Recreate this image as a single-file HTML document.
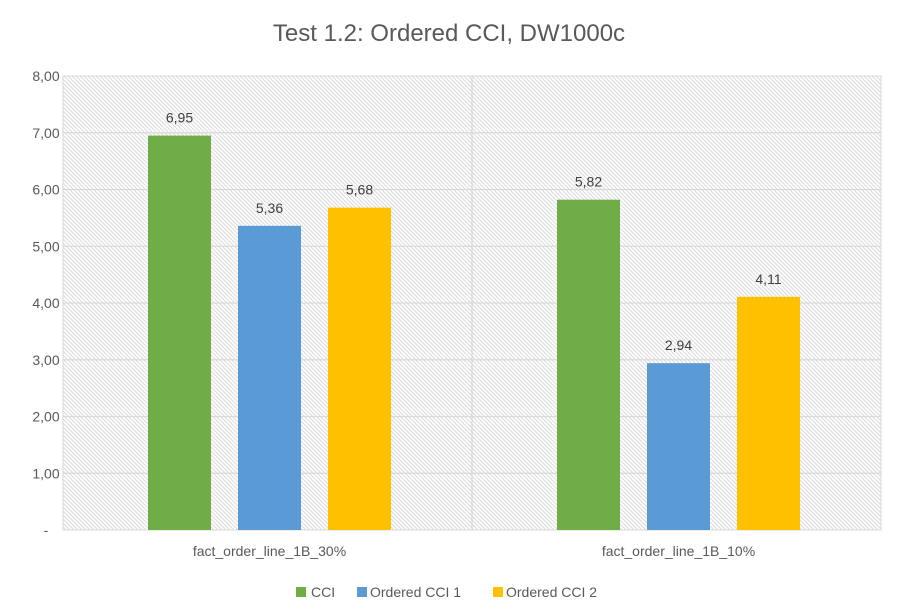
<!DOCTYPE html>
<html><head><meta charset="utf-8"><style>
html,body{margin:0;padding:0;background:#fff;width:898px;height:612px;overflow:hidden}
text{font-family:"Liberation Sans",sans-serif}
</style></head><body>
<svg id="chart" width="898" height="612" viewBox="0 0 898 612">
<defs>
<pattern id="hatch" width="4" height="4" patternUnits="userSpaceOnUse">
<rect width="4" height="4" fill="#fff"/>
<path d="M-1,-1 L5,5 M-1,3 L1,5 M3,-1 L5,1" stroke="#dcdcdc" stroke-width="1"/>
</pattern>
</defs>
<text x="449" y="41" text-anchor="middle" font-size="24" fill="#595959">Test 1.2: Ordered CCI, DW1000c</text>
<rect x="63" y="76" width="818" height="454" fill="url(#hatch)" stroke="#d9d9d9"/>
<g id="grid"></g><g id="bars"></g><g id="labels"></g>
<g>
<rect x="296" y="587" width="10" height="10" fill="#70ad47"/>
<text x="311" y="597" font-size="14" fill="#595959">CCI</text>
<rect x="357" y="587" width="10" height="10" fill="#5b9bd5"/>
<text x="370" y="597" font-size="14" fill="#595959">Ordered CCI 1</text>
<rect x="493" y="587" width="10" height="10" fill="#ffc000"/>
<text x="506" y="597" font-size="14" fill="#595959">Ordered CCI 2</text>
</g>
</svg>
<script>
const categories = ["fact_order_line_1B_30%", "fact_order_line_1B_10%"];
const seriesNames = ["CCI", "Ordered CCI 1", "Ordered CCI 2"];
const cciValues = [6.95, 5.82];
const ordered1Values = [5.36, 2.94];
const ordered2Values = [5.68, 4.11];
const valueLabels = [["6,95","5,82"],["5,36","2,94"],["5,68","4,11"]];
const yTicks = [0,1,2,3,4,5,6,7,8];
const yTickLabels = ["-","1,00","2,00","3,00","4,00","5,00","6,00","7,00","8,00"];

const NS="http://www.w3.org/2000/svg";
const X0=63,X1=881,Y0=530,Y1=76,YMAX=8;
const colors=["#70ad47","#5b9bd5","#ffc000"];
const series=[cciValues,ordered1Values,ordered2Values];
const y=v=>Y0-(v/YMAX)*(Y0-Y1);
const catW=(X1-X0)/categories.length;
const xCenter=i=>X0+catW*(i+0.5)+2;
function mk(tag,attrs,parent){const e=document.createElementNS(NS,tag);for(const k in attrs)e.setAttribute(k,attrs[k]);parent.appendChild(e);return e;}
const grid=document.getElementById('grid'),bars=document.getElementById('bars'),labels=document.getElementById('labels');
yTicks.forEach((t,i)=>{
  if(t>0&&t<YMAX){const l=mk('line',{x1:X0,x2:X1,y1:y(t),y2:y(t),stroke:'#d9d9d9','stroke-width':1.3},grid);
  
  }
  const tx=mk('text',{x:46,y:y(t)+5,'text-anchor':'middle','font-size':14,fill:'#595959'},grid);
  tx.textContent=yTickLabels[i];
  
  
});
const sep=mk('line',{x1:X0+catW,x2:X0+catW,y1:Y1,y2:Y0,stroke:'#d9d9d9','stroke-width':1.3},grid);


const bw=63,step=90;
categories.forEach((c,ci)=>{
  series.forEach((s,si)=>{
    const cx=xCenter(ci)+(si-1)*step;
    const r=mk('rect',{x:cx-bw/2,y:y(s[ci]),width:bw,height:Y0-y(s[ci]),fill:colors[si]},bars);
    
    
    const t=mk('text',{x:cx,y:y(s[ci])-13,'text-anchor':'middle','font-size':14,fill:'#404040'},labels);
    t.textContent=valueLabels[si][ci];
    
    
  });
  const ct=mk('text',{x:xCenter(ci),y:556,'text-anchor':'middle','font-size':14,fill:'#595959'},labels);
  ct.textContent=c;
  
  
});
</script>
</body></html>
